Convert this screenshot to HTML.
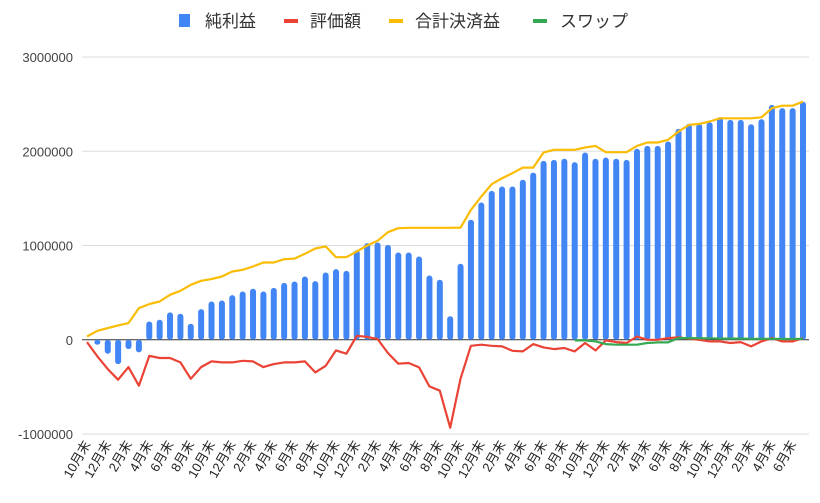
<!DOCTYPE html>
<html><head><meta charset="utf-8"><style>
body{margin:0;background:#fff;}
svg text{font-family:"Liberation Sans","Noto Sans CJK JP",sans-serif;}
</style></head><body>
<svg id="c" width="820" height="498" xmlns="http://www.w3.org/2000/svg">
<g>
<rect x="179" y="14" width="11" height="13" fill="#4285f4"/>
<text x="205" y="27" font-size="17" fill="#333">純利益</text>
<rect x="284" y="19" width="14" height="4" fill="#ea4335"/>
<text x="310" y="27" font-size="17" fill="#333">評価額</text>
<rect x="389" y="19" width="14" height="4" fill="#fbbc04"/>
<text x="415" y="27" font-size="17" fill="#333">合計決済益</text>
<rect x="533" y="19" width="14" height="4" fill="#34a853"/>
<text x="560" y="27" font-size="17" fill="#333">スワップ</text>
</g>
<g id="grid"></g><g id="bars"></g><g id="lines"></g><g id="xl"></g>
</svg>
<script>
const categories = ["10月末","11月末","12月末","1月末","2月末","3月末","4月末","5月末","6月末","7月末","8月末","9月末"];
const yTicks = [3000000,2000000,1000000,0,-1000000];
const netProfit = [0,-53000,-148000,-258000,-99000,-134000,194000,212000,290000,276000,170000,325000,406000,417000,473000,512000,541000,512000,551000,604000,618000,671000,622000,714000,749000,731000,951000,1025000,1032000,1007000,926000,926000,883000,682000,636000,250000,806000,1273000,1456000,1580000,1626000,1626000,1697000,1773000,1898000,1909000,1920000,1884000,1987000,1920000,1934000,1920000,1909000,2026000,2057000,2057000,2103000,2238000,2291000,2291000,2309000,2362000,2333000,2333000,2287000,2340000,2492000,2457000,2457000,2527000];
const valuation = [-25000,-177000,-311000,-424000,-290000,-488000,-170000,-194000,-194000,-240000,-414000,-290000,-230000,-240000,-240000,-223000,-230000,-290000,-258000,-240000,-240000,-230000,-346000,-276000,-113000,-148000,42000,30000,7000,-141000,-254000,-247000,-293000,-495000,-541000,-933000,-410000,-64000,-53000,-64000,-71000,-117000,-124000,-46000,-81000,-99000,-88000,-124000,-35000,-113000,-7000,-25000,-35000,35000,0,0,18000,25000,11000,0,-18000,-18000,-35000,-25000,-71000,-18000,18000,-18000,-18000,18000];
const totalSettled = [35000,95000,124000,152000,177000,336000,378000,406000,477000,519000,583000,625000,643000,671000,724000,742000,777000,820000,820000,855000,861000,912000,968000,990000,876000,876000,937000,1000000,1050000,1141000,1184000,1188000,1188000,1188000,1188000,1188000,1190000,1378000,1520000,1650000,1714000,1767000,1827000,1827000,1987000,2015000,2015000,2015000,2040000,2057000,1990000,1990000,1990000,2057000,2093000,2093000,2121000,2209000,2280000,2290000,2316000,2350000,2350000,2350000,2350000,2360000,2457000,2483000,2483000,2527000];
const swap = [null,null,null,null,null,null,null,null,null,null,null,null,null,null,null,null,null,null,null,null,null,null,null,null,null,null,null,null,null,null,null,null,null,null,null,null,null,null,null,null,null,null,null,null,null,null,null,-7000,-7000,-18000,-46000,-53000,-53000,-53000,-35000,-28000,-28000,18000,18000,15000,15000,12000,12000,12000,10000,10000,10000,8000,8000,10000];

const NS="http://www.w3.org/2000/svg";
const X0=87, X1=803, Y0=57, Y1=434, VMAX=3000000, VMIN=-1000000;
const n=netProfit.length;
function xs(i){return X0+(X1-X0)*i/(n-1);}
function ys(v){return Y0+(VMAX-v)/(VMAX-VMIN)*(Y1-Y0);}
function mk(t,a,p){const e=document.createElementNS(NS,t);for(const k in a)e.setAttribute(k,a[k]);p.appendChild(e);return e;}
const grid=document.getElementById('grid');
yTicks.forEach(v=>{
  const l=mk('line',{x1:X0-5,x2:X1+6,y1:ys(v),y2:ys(v),stroke:v===0?'#333':'#ddd','stroke-width':1},grid);
  
  
  const t=mk('text',{x:73,y:ys(v)+5,'text-anchor':'end','font-size':13,fill:'#444'},grid);
  t.textContent=String(v);
  
  
});
const bars=document.getElementById('bars');
netProfit.forEach((v,i)=>{
  if(v===0)return;
  const y=Math.min(ys(v),ys(0)),h=Math.abs(ys(v)-ys(0));
  const r=mk('rect',{x:xs(i)-3,y:y,width:6,height:Math.max(h,1),rx:3,fill:'#4285f4'},bars);
  
  
});
const lines=document.getElementById('lines');
function line(arr,col,name){
  let d='',pen=false;
  arr.forEach((v,i)=>{if(v===null){pen=false;return;}d+=(pen?'L':'M')+xs(i).toFixed(1)+' '+ys(v).toFixed(1);pen=true;});
  const p=mk('path',{d:d,fill:'none',stroke:col,'stroke-width':2.2,'stroke-linejoin':'round'},lines);
  
  
}
line(valuation,'#ea4335','line-valuation');
line(totalSettled,'#fbbc04','line-total-settled');
line(swap,'#34a853','line-swap');
const xl=document.getElementById('xl');
for(let i=0;i<n;i+=2){
  const x=xs(i),y=444;
  const t=mk('text',{x:x+4,y:y,'text-anchor':'end','font-size':13,fill:'#222',transform:`rotate(-60 ${x+4} ${y})`},xl);
  t.textContent=categories[i%12];
  
  
}
</script>
</body></html>
